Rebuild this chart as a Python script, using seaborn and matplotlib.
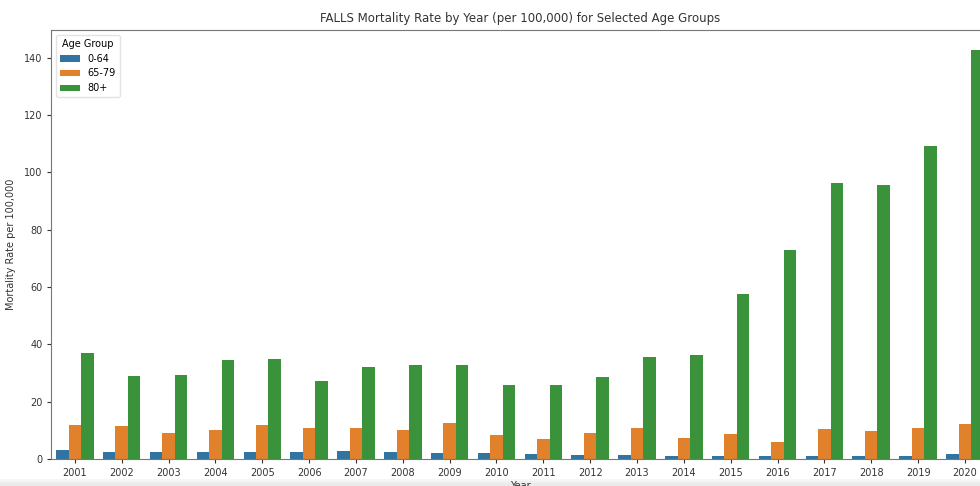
import matplotlib
matplotlib.use("Agg")
import matplotlib.pyplot as plt
from matplotlib.patches import Rectangle
import numpy as np
import pandas as pd
import seaborn as sns

years = [str(y) for y in range(2001, 2021)]
age_groups = ["0-64", "65-79", "80+"]

rate_0_64 = [3.1, 2.6, 2.6, 2.6, 2.3, 2.3, 2.9, 2.6, 2.2, 2.2,
             1.7, 1.5, 1.5, 1.2, 1.0, 1.0, 1.0, 1.2, 1.2, 1.7]
rate_65_79 = [11.7, 11.5, 9.0, 10.1, 11.7, 10.9, 10.7, 10.1, 12.4, 8.3,
              7.0, 9.0, 10.9, 7.2, 8.7, 6.0, 10.3, 9.9, 10.9, 12.2]
rate_80_plus = [37.1, 29.0, 29.2, 34.4, 34.9, 27.2, 32.1, 32.7, 32.7, 25.7,
                25.7, 28.5, 35.5, 36.1, 57.5, 73.0, 96.4, 95.6, 109.0, 142.5]

df = pd.DataFrame({
    "Year": years * 3,
    "Age Group": [g for g in age_groups for _ in years],
    "Rate": rate_0_64 + rate_65_79 + rate_80_plus,
})

fig = plt.figure(figsize=(9.8, 4.86), dpi=100)

# soft grey band along the bottom edge
for i, c in enumerate(["#f6f6f6", "#f0f0f0", "#eaeaea"]):
    fig.add_artist(Rectangle((0, 0), 1, (7 - 2 * i) / 486, transform=fig.transFigure,
                             facecolor=c, edgecolor="none", zorder=-1))

ax = fig.add_axes([0.0525, 0.0556, 0.956, 0.8827])

sns.barplot(data=df, x="Year", y="Rate", hue="Age Group",
            palette=["#1f77b4", "#ff7f0e", "#2ca02c"], saturation=0.75,
            errorbar=None, ax=ax)

ax.set_title("FALLS Mortality Rate by Year (per 100,000) for Selected Age Groups",
             fontsize=8.5, color="#333333", pad=6)
ax.set_xlabel("Year", fontsize=7, color="#333333", labelpad=2)
ax.set_ylabel("Mortality Rate per 100,000", fontsize=7, color="#333333", labelpad=6)
ax.tick_params(axis="both", labelsize=7, colors="#333333", length=3)
for s in ax.spines.values():
    s.set_color("#777777")

leg = ax.legend(title="Age Group", loc="upper left", fontsize=7,
                title_fontsize=7, frameon=True)
leg.get_frame().set_edgecolor("#dddddd")

fig.savefig("out.png", dpi=100)
